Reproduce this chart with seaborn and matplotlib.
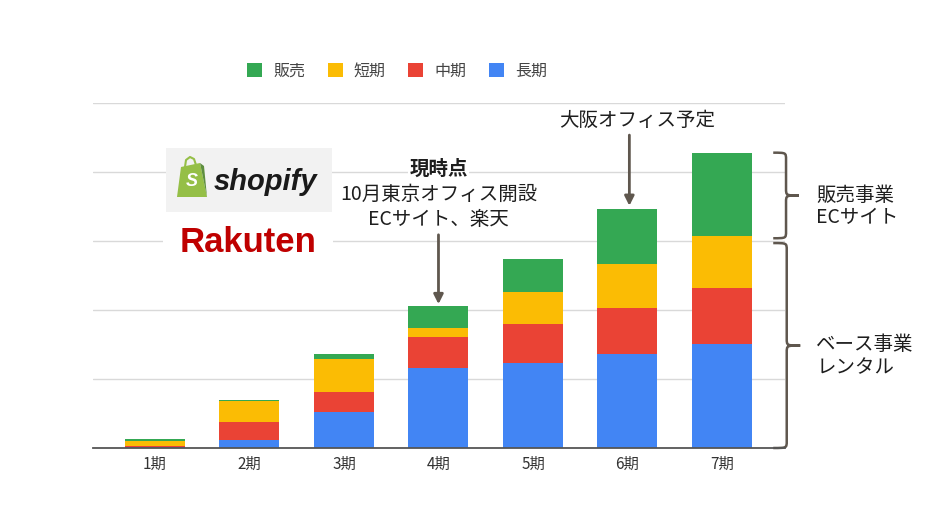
import numpy as np
import pandas as pd
import matplotlib.pyplot as plt
import matplotlib.transforms as mtransforms
from matplotlib.patches import Patch, Rectangle, Polygon, PathPatch
from matplotlib.path import Path
import seaborn as sns

# データ
periods = ['1期', '2期', '3期', '4期', '5期', '6期', '7期']
long_term = [1.5, 12, 52, 116, 123, 136, 151]
mid_term = [1.5, 25.5, 29.5, 44.5, 57, 67, 81]
short_term = [7, 30, 48, 14, 46, 64, 75]
sales = [3, 2.5, 7, 32, 48, 80, 121]

series_names = ['販売', '短期', '中期', '長期']
series_colors = ['#34a853', '#fbbc04', '#ea4335', '#4285f4']

df = pd.DataFrame({'period': periods, '長期': long_term, '中期': mid_term,
                   '短期': short_term, '販売': sales})
# 積み上げ用の累積値
df['c_長期'] = df['長期']
df['c_中期'] = df['c_長期'] + df['中期']
df['c_短期'] = df['c_中期'] + df['短期']
df['c_販売'] = df['c_短期'] + df['販売']

sns.set_theme(style='white')
plt.rcParams['font.family'] = ['Noto Sans CJK JP', 'DejaVu Sans']

fig = plt.figure(figsize=(9.41, 5.29), dpi=100)
ax = fig.add_axes([93 / 941, 1 - 448 / 529, (785 - 93) / 941, (448 - 103) / 529])

# 上の層から順に累積値を描く
for name, color in zip(series_names, series_colors):
    sns.barplot(data=df, x='period', y='c_' + name, color=color, saturation=1,
                width=0.635, errorbar=None, linewidth=0, ax=ax, zorder=2)

ax.set_xlim(-0.656, 6.667)
ax.set_ylim(0, 500)
ax.set_yticks([100, 200, 300, 400, 500])
ax.yaxis.grid(True, color='#d9d9d9', lw=1)
ax.set_axisbelow(True)
ax.tick_params(axis='y', length=0, labelleft=False)
ax.tick_params(axis='x', length=0, pad=6, labelsize=11, labelcolor='#333333')
ax.set_xlabel('')
ax.set_ylabel('')
for side in ['left', 'right', 'top']:
    ax.spines[side].set_visible(False)
ax.spines['bottom'].set_color('#555555')
ax.spines['bottom'].set_linewidth(1.3)

# 凡例
handles = [Patch(facecolor=c, edgecolor='none') for c in series_colors]
fig.legend(handles, series_names, loc='center', bbox_to_anchor=(0.422, 0.866),
           ncol=4, frameon=False, fontsize=11.5, handlelength=0.94, handleheight=0.94,
           handletextpad=0.7, columnspacing=1.4, labelcolor='#444444')

acol = '#5f574e'
tcol = '#1e1e1e'
fs = 14
totals = df['c_販売'].values

# 現時点の注記
ax.text(3, 403.5, '現時点', ha='center', va='center', fontsize=fs,
        fontweight='bold', color=tcol,
        bbox=dict(fc='white', ec='none', pad=1))
ax.text(3, 368, '10月東京オフィス開設', ha='center', va='center', fontsize=fs, color=tcol)
ax.text(3, 331, 'ECサイト、楽天', ha='center', va='center', fontsize=fs, color=tcol)
ax.annotate('', xy=(3, totals[3] + 2), xytext=(3, 309), annotation_clip=False,
            arrowprops=dict(arrowstyle='-|>', color=acol, lw=2, mutation_scale=14,
                            shrinkA=0, shrinkB=0))

# 大阪の注記
ax.text(5.1, 474.5, '大阪オフィス予定', ha='center', va='center', fontsize=fs,
        color=tcol, clip_on=False)
ax.annotate('', xy=(5.02, totals[5] + 4), xytext=(5.02, 453.5), annotation_clip=False,
            arrowprops=dict(arrowstyle='-|>', color=acol, lw=2, mutation_scale=14,
                            shrinkA=0, shrinkB=0))


def draw_brace(ax, x0, y0, y1, w, h, color):
    trans = mtransforms.blended_transform_factory(ax.transAxes, ax.transData)
    xm = x0 + w / 2
    xt = x0 + w
    ym = (y0 + y1) / 2
    verts = [(x0, y1), (xm, y1), (xm, y1), (xm, y1 - h),
             (xm, ym + h),
             (xm, ym), (xm, ym), (xt, ym),
             (xm, ym), (xm, ym), (xm, ym - h),
             (xm, y0 + h),
             (xm, y0), (xm, y0), (x0, y0)]
    codes = [Path.MOVETO] + [Path.CURVE4] * 3 + [Path.LINETO] + [Path.CURVE4] * 6 \
        + [Path.LINETO] + [Path.CURVE4] * 3
    patch = PathPatch(Path(verts, codes), fc='none', ec=color, lw=1.8,
                      transform=trans, clip_on=False)
    ax.add_patch(patch)
    return ym


boundary = df['c_短期'].values[6]
top = totals[6]
ym1 = draw_brace(ax, 0.983, boundary - 3, top, 0.037, 10, acol)
ym2 = draw_brace(ax, 0.983, 0, boundary - 10, 0.039, 10, acol)

for y, label in [(ym1, '販売事業'), (ym1 - 32, 'ECサイト'),
                 (ym2 + 1.5, 'ベース事業'), (ym2 - 32, 'レンタル')]:
    ax.text(7.0, y, label, ha='left', va='center', fontsize=fs,
            color=tcol, clip_on=False)

# ロゴ(ピクセル座標のオーバーレイ)
ov = fig.add_axes([0, 0, 1, 1])
ov.set_xlim(0, 941)
ov.set_ylim(529, 0)
ov.axis('off')

ov.add_patch(Rectangle((166, 148), 166, 64, fc='#f2f2f2', ec='none'))
ov.add_patch(Polygon([(181, 167), (200, 163), (207, 197), (177, 197)],
                     closed=True, fc='#95bf47', ec='none'))
ov.add_patch(Polygon([(200, 163), (204, 166), (207, 197)],
                     closed=True, fc='#5e8e3e', ec='none'))
ov.plot([185, 186, 190, 194, 196], [167, 160, 157, 159, 165], color='#95bf47', lw=1.5)
ov.text(192, 182, 'S', ha='center', va='center', fontsize=13, fontweight='bold',
        fontstyle='italic', color='white', family='Liberation Sans')
ov.text(214, 182, 'shopify', ha='left', va='center', fontsize=21, fontweight='bold',
        fontstyle='italic', color='#1a1a1a', family='Liberation Sans')

ov.add_patch(Rectangle((163, 224), 170, 38, fc='white', ec='none'))
ov.text(248, 242, 'Rakuten', ha='center', va='center', fontsize=25, fontweight='bold',
        color='#bf0000', family='Liberation Sans')

fig.savefig('out.png', dpi=100)
